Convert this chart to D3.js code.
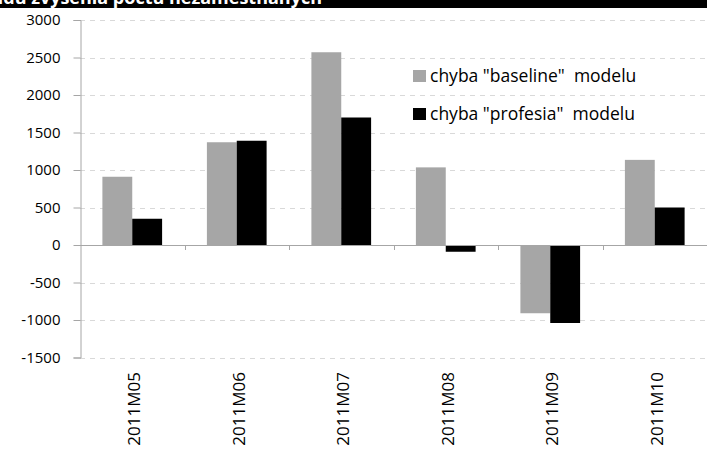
<!DOCTYPE html>
<html>
<head>
<meta charset="utf-8">
<script src="https://cdn.jsdelivr.net/npm/d3@7"></script>
<style>
  html, body { margin: 0; padding: 0; background: #fff; }
  svg { display: block; }
  text { font-family: "Open Sans", sans-serif; }
</style>
</head>
<body>
<svg id="chart" width="707" height="450"></svg>
<script>
// Monthly forecast errors of the two models
const months = ["2011M05", "2011M06", "2011M07", "2011M08", "2011M09", "2011M10"];
const baselineErr = [910, 1370, 2570, 1035, -910, 1135];
const profesiaErr = [350, 1390, 1700, -90, -1040, 500];
const seriesNames = ['chyba "baseline"  modelu', 'chyba "profesia"  modelu'];
const seriesColors = ["#a6a6a6", "#000000"];
const yTicks = [3000, 2500, 2000, 1500, 1000, 500, 0, -500, -1000, -1500];
const titleText = "Chyby odhadu zvýšenia počtu nezamestnaných";

const svg = d3.select("#chart");
const W = 707, H = 450;
const plot = { left: 80, right: 707, top: 20, bottom: 357.5 };

// title strip
svg.append("rect").attr("x", 0).attr("y", 0).attr("width", W).attr("height", 8).attr("fill", "#000");
svg.append("text")
  .attr("x", 322).attr("y", 4)
  .attr("text-anchor", "end")
  .attr("fill", "#fff")
  .attr("font-weight", "bold")
  .attr("font-size", 18)
  .text(titleText);

const y = d3.scaleLinear().domain([-1500, 3000]).range([plot.bottom, plot.top]);
const x0 = d3.scaleBand().domain(months).range([plot.left, plot.right]).paddingInner(0).paddingOuter(0);
const inner = x0.bandwidth() / (2 + 1.5);
const x1 = d3.scaleBand().domain([0, 1]).range([0, inner * 2]);

// dashed gridlines
svg.append("g").selectAll("line").data(yTicks.filter(t => t !== 0)).join("line")
  .attr("x1", plot.left).attr("x2", W)
  .attr("y1", d => Math.round(y(d)) + 0.5).attr("y2", d => Math.round(y(d)) + 0.5)
  .attr("stroke", "#d9d9d9").attr("stroke-width", 1).attr("stroke-dasharray", "5,5");

// bars
const data = months.map((m, i) => ({ m, vals: [baselineErr[i], profesiaErr[i]] }));
const groups = svg.append("g").selectAll("g").data(data).join("g")
  .attr("transform", d => `translate(${x0(d.m) + inner * 0.75},0)`);
groups.selectAll("rect").data(d => d.vals.map((v, k) => ({ v, k }))).join("rect")
  .attr("x", d => x1(d.k))
  .attr("width", x1.bandwidth())
  .attr("y", d => y(Math.max(0, d.v)))
  .attr("height", d => Math.abs(y(d.v) - y(0)))
  .attr("fill", d => seriesColors[d.k]);

// y axis (plain hyphen for negatives)
const yAxis = d3.axisLeft(y).tickValues(yTicks).tickSize(7).tickPadding(13).tickFormat(d => String(d));
const gy = svg.append("g").attr("transform", `translate(${plot.left + 0.5},0)`).call(yAxis);
gy.select(".domain").attr("stroke", "#a6a6a6");
gy.selectAll(".tick line").attr("stroke", "#a6a6a6");
gy.selectAll(".tick text").attr("font-size", 15).attr("fill", "#000").style("font-family", "'Open Sans', sans-serif");

// x axis at zero with boundary ticks
const gx = svg.append("g");
gx.append("line").attr("x1", plot.left).attr("x2", W)
  .attr("y1", Math.round(y(0)) + 0.5).attr("y2", Math.round(y(0)) + 0.5)
  .attr("stroke", "#a6a6a6");
gx.selectAll("line.tk").data(months.slice(1)).join("line").attr("class", "tk")
  .attr("x1", d => Math.round(x0(d)) + 0.5).attr("x2", d => Math.round(x0(d)) + 0.5)
  .attr("y1", y(0)).attr("y2", y(0) + 5)
  .attr("stroke", "#a6a6a6");

// category labels, rotated
svg.append("g").selectAll("text").data(months).join("text")
  .attr("transform", d => `translate(${x0(d) + x0.bandwidth() / 2 + 8},372) rotate(-90)`)
  .attr("text-anchor", "end")
  .attr("font-size", 17)
  .attr("fill", "#000")
  .text(d => d);

// legend
const lg = svg.append("g").selectAll("g").data(seriesNames).join("g")
  .attr("transform", (d, i) => `translate(413,${70 + i * 38})`);
lg.append("rect").attr("width", 13).attr("height", 12).attr("fill", (d, i) => seriesColors[i]);
lg.append("text").attr("x", 17).attr("y", 12).attr("font-size", 17.5).attr("fill", "#000")
  .style("white-space", "pre").text(d => d);
</script>
</body>
</html>
